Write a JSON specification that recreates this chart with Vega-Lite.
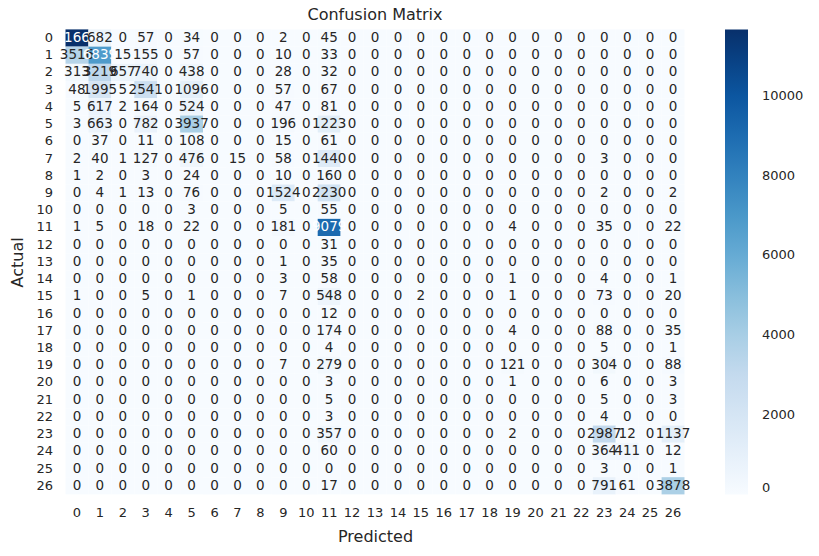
{
  "$schema": "https://vega.github.io/schema/vega-lite/v6.json",
  "width": 619,
  "height": 465,
  "autosize": "none",
  "padding": {"left": 65.5, "top": 29.4, "right": 134.5, "bottom": 61.6},
  "background": "white",
  "title": {"text": "Confusion Matrix", "fontSize": 16, "font": "DejaVu Sans", "fontWeight": "normal", "color": "#262626", "offset": 6},
  "config": {
    "view": {"stroke": null},
    "font": "DejaVu Sans",
    "axis": {"domain": false, "ticks": false, "grid": false, "labelFontSize": 13, "titleFontSize": 16, "titleFontWeight": "normal", "labelColor": "#262626", "titleColor": "#262626", "labelFont": "DejaVu Sans", "titleFont": "DejaVu Sans"}
  },
  "data": {"values": [
{"a":0,"p":0,"v":11668},{"a":0,"p":1,"v":682},{"a":0,"p":2,"v":0},{"a":0,"p":3,"v":57},{"a":0,"p":4,"v":0},{"a":0,"p":5,"v":34},{"a":0,"p":6,"v":0},{"a":0,"p":7,"v":0},{"a":0,"p":8,"v":0},{"a":0,"p":9,"v":2},{"a":0,"p":10,"v":0},{"a":0,"p":11,"v":45},{"a":0,"p":12,"v":0},{"a":0,"p":13,"v":0},{"a":0,"p":14,"v":0},{"a":0,"p":15,"v":0},{"a":0,"p":16,"v":0},{"a":0,"p":17,"v":0},{"a":0,"p":18,"v":0},{"a":0,"p":19,"v":0},{"a":0,"p":20,"v":0},{"a":0,"p":21,"v":0},{"a":0,"p":22,"v":0},{"a":0,"p":23,"v":0},{"a":0,"p":24,"v":0},{"a":0,"p":25,"v":0},{"a":0,"p":26,"v":0},
{"a":1,"p":0,"v":3516},{"a":1,"p":1,"v":6839},{"a":1,"p":2,"v":15},{"a":1,"p":3,"v":155},{"a":1,"p":4,"v":0},{"a":1,"p":5,"v":57},{"a":1,"p":6,"v":0},{"a":1,"p":7,"v":0},{"a":1,"p":8,"v":0},{"a":1,"p":9,"v":10},{"a":1,"p":10,"v":0},{"a":1,"p":11,"v":33},{"a":1,"p":12,"v":0},{"a":1,"p":13,"v":0},{"a":1,"p":14,"v":0},{"a":1,"p":15,"v":0},{"a":1,"p":16,"v":0},{"a":1,"p":17,"v":0},{"a":1,"p":18,"v":0},{"a":1,"p":19,"v":0},{"a":1,"p":20,"v":0},{"a":1,"p":21,"v":0},{"a":1,"p":22,"v":0},{"a":1,"p":23,"v":0},{"a":1,"p":24,"v":0},{"a":1,"p":25,"v":0},{"a":1,"p":26,"v":0},
{"a":2,"p":0,"v":313},{"a":2,"p":1,"v":3219},{"a":2,"p":2,"v":657},{"a":2,"p":3,"v":740},{"a":2,"p":4,"v":0},{"a":2,"p":5,"v":438},{"a":2,"p":6,"v":0},{"a":2,"p":7,"v":0},{"a":2,"p":8,"v":0},{"a":2,"p":9,"v":28},{"a":2,"p":10,"v":0},{"a":2,"p":11,"v":32},{"a":2,"p":12,"v":0},{"a":2,"p":13,"v":0},{"a":2,"p":14,"v":0},{"a":2,"p":15,"v":0},{"a":2,"p":16,"v":0},{"a":2,"p":17,"v":0},{"a":2,"p":18,"v":0},{"a":2,"p":19,"v":0},{"a":2,"p":20,"v":0},{"a":2,"p":21,"v":0},{"a":2,"p":22,"v":0},{"a":2,"p":23,"v":0},{"a":2,"p":24,"v":0},{"a":2,"p":25,"v":0},{"a":2,"p":26,"v":0},
{"a":3,"p":0,"v":48},{"a":3,"p":1,"v":1995},{"a":3,"p":2,"v":5},{"a":3,"p":3,"v":2541},{"a":3,"p":4,"v":0},{"a":3,"p":5,"v":1096},{"a":3,"p":6,"v":0},{"a":3,"p":7,"v":0},{"a":3,"p":8,"v":0},{"a":3,"p":9,"v":57},{"a":3,"p":10,"v":0},{"a":3,"p":11,"v":67},{"a":3,"p":12,"v":0},{"a":3,"p":13,"v":0},{"a":3,"p":14,"v":0},{"a":3,"p":15,"v":0},{"a":3,"p":16,"v":0},{"a":3,"p":17,"v":0},{"a":3,"p":18,"v":0},{"a":3,"p":19,"v":0},{"a":3,"p":20,"v":0},{"a":3,"p":21,"v":0},{"a":3,"p":22,"v":0},{"a":3,"p":23,"v":0},{"a":3,"p":24,"v":0},{"a":3,"p":25,"v":0},{"a":3,"p":26,"v":0},
{"a":4,"p":0,"v":5},{"a":4,"p":1,"v":617},{"a":4,"p":2,"v":2},{"a":4,"p":3,"v":164},{"a":4,"p":4,"v":0},{"a":4,"p":5,"v":524},{"a":4,"p":6,"v":0},{"a":4,"p":7,"v":0},{"a":4,"p":8,"v":0},{"a":4,"p":9,"v":47},{"a":4,"p":10,"v":0},{"a":4,"p":11,"v":81},{"a":4,"p":12,"v":0},{"a":4,"p":13,"v":0},{"a":4,"p":14,"v":0},{"a":4,"p":15,"v":0},{"a":4,"p":16,"v":0},{"a":4,"p":17,"v":0},{"a":4,"p":18,"v":0},{"a":4,"p":19,"v":0},{"a":4,"p":20,"v":0},{"a":4,"p":21,"v":0},{"a":4,"p":22,"v":0},{"a":4,"p":23,"v":0},{"a":4,"p":24,"v":0},{"a":4,"p":25,"v":0},{"a":4,"p":26,"v":0},
{"a":5,"p":0,"v":3},{"a":5,"p":1,"v":663},{"a":5,"p":2,"v":0},{"a":5,"p":3,"v":782},{"a":5,"p":4,"v":0},{"a":5,"p":5,"v":3937},{"a":5,"p":6,"v":0},{"a":5,"p":7,"v":0},{"a":5,"p":8,"v":0},{"a":5,"p":9,"v":196},{"a":5,"p":10,"v":0},{"a":5,"p":11,"v":1223},{"a":5,"p":12,"v":0},{"a":5,"p":13,"v":0},{"a":5,"p":14,"v":0},{"a":5,"p":15,"v":0},{"a":5,"p":16,"v":0},{"a":5,"p":17,"v":0},{"a":5,"p":18,"v":0},{"a":5,"p":19,"v":0},{"a":5,"p":20,"v":0},{"a":5,"p":21,"v":0},{"a":5,"p":22,"v":0},{"a":5,"p":23,"v":0},{"a":5,"p":24,"v":0},{"a":5,"p":25,"v":0},{"a":5,"p":26,"v":0},
{"a":6,"p":0,"v":0},{"a":6,"p":1,"v":37},{"a":6,"p":2,"v":0},{"a":6,"p":3,"v":11},{"a":6,"p":4,"v":0},{"a":6,"p":5,"v":108},{"a":6,"p":6,"v":0},{"a":6,"p":7,"v":0},{"a":6,"p":8,"v":0},{"a":6,"p":9,"v":15},{"a":6,"p":10,"v":0},{"a":6,"p":11,"v":61},{"a":6,"p":12,"v":0},{"a":6,"p":13,"v":0},{"a":6,"p":14,"v":0},{"a":6,"p":15,"v":0},{"a":6,"p":16,"v":0},{"a":6,"p":17,"v":0},{"a":6,"p":18,"v":0},{"a":6,"p":19,"v":0},{"a":6,"p":20,"v":0},{"a":6,"p":21,"v":0},{"a":6,"p":22,"v":0},{"a":6,"p":23,"v":0},{"a":6,"p":24,"v":0},{"a":6,"p":25,"v":0},{"a":6,"p":26,"v":0},
{"a":7,"p":0,"v":2},{"a":7,"p":1,"v":40},{"a":7,"p":2,"v":1},{"a":7,"p":3,"v":127},{"a":7,"p":4,"v":0},{"a":7,"p":5,"v":476},{"a":7,"p":6,"v":0},{"a":7,"p":7,"v":15},{"a":7,"p":8,"v":0},{"a":7,"p":9,"v":58},{"a":7,"p":10,"v":0},{"a":7,"p":11,"v":1440},{"a":7,"p":12,"v":0},{"a":7,"p":13,"v":0},{"a":7,"p":14,"v":0},{"a":7,"p":15,"v":0},{"a":7,"p":16,"v":0},{"a":7,"p":17,"v":0},{"a":7,"p":18,"v":0},{"a":7,"p":19,"v":0},{"a":7,"p":20,"v":0},{"a":7,"p":21,"v":0},{"a":7,"p":22,"v":0},{"a":7,"p":23,"v":3},{"a":7,"p":24,"v":0},{"a":7,"p":25,"v":0},{"a":7,"p":26,"v":0},
{"a":8,"p":0,"v":1},{"a":8,"p":1,"v":2},{"a":8,"p":2,"v":0},{"a":8,"p":3,"v":3},{"a":8,"p":4,"v":0},{"a":8,"p":5,"v":24},{"a":8,"p":6,"v":0},{"a":8,"p":7,"v":0},{"a":8,"p":8,"v":0},{"a":8,"p":9,"v":10},{"a":8,"p":10,"v":0},{"a":8,"p":11,"v":160},{"a":8,"p":12,"v":0},{"a":8,"p":13,"v":0},{"a":8,"p":14,"v":0},{"a":8,"p":15,"v":0},{"a":8,"p":16,"v":0},{"a":8,"p":17,"v":0},{"a":8,"p":18,"v":0},{"a":8,"p":19,"v":0},{"a":8,"p":20,"v":0},{"a":8,"p":21,"v":0},{"a":8,"p":22,"v":0},{"a":8,"p":23,"v":0},{"a":8,"p":24,"v":0},{"a":8,"p":25,"v":0},{"a":8,"p":26,"v":0},
{"a":9,"p":0,"v":0},{"a":9,"p":1,"v":4},{"a":9,"p":2,"v":1},{"a":9,"p":3,"v":13},{"a":9,"p":4,"v":0},{"a":9,"p":5,"v":76},{"a":9,"p":6,"v":0},{"a":9,"p":7,"v":0},{"a":9,"p":8,"v":0},{"a":9,"p":9,"v":1524},{"a":9,"p":10,"v":0},{"a":9,"p":11,"v":2230},{"a":9,"p":12,"v":0},{"a":9,"p":13,"v":0},{"a":9,"p":14,"v":0},{"a":9,"p":15,"v":0},{"a":9,"p":16,"v":0},{"a":9,"p":17,"v":0},{"a":9,"p":18,"v":0},{"a":9,"p":19,"v":0},{"a":9,"p":20,"v":0},{"a":9,"p":21,"v":0},{"a":9,"p":22,"v":0},{"a":9,"p":23,"v":2},{"a":9,"p":24,"v":0},{"a":9,"p":25,"v":0},{"a":9,"p":26,"v":2},
{"a":10,"p":0,"v":0},{"a":10,"p":1,"v":0},{"a":10,"p":2,"v":0},{"a":10,"p":3,"v":0},{"a":10,"p":4,"v":0},{"a":10,"p":5,"v":3},{"a":10,"p":6,"v":0},{"a":10,"p":7,"v":0},{"a":10,"p":8,"v":0},{"a":10,"p":9,"v":5},{"a":10,"p":10,"v":0},{"a":10,"p":11,"v":55},{"a":10,"p":12,"v":0},{"a":10,"p":13,"v":0},{"a":10,"p":14,"v":0},{"a":10,"p":15,"v":0},{"a":10,"p":16,"v":0},{"a":10,"p":17,"v":0},{"a":10,"p":18,"v":0},{"a":10,"p":19,"v":0},{"a":10,"p":20,"v":0},{"a":10,"p":21,"v":0},{"a":10,"p":22,"v":0},{"a":10,"p":23,"v":0},{"a":10,"p":24,"v":0},{"a":10,"p":25,"v":0},{"a":10,"p":26,"v":0},
{"a":11,"p":0,"v":1},{"a":11,"p":1,"v":5},{"a":11,"p":2,"v":0},{"a":11,"p":3,"v":18},{"a":11,"p":4,"v":0},{"a":11,"p":5,"v":22},{"a":11,"p":6,"v":0},{"a":11,"p":7,"v":0},{"a":11,"p":8,"v":0},{"a":11,"p":9,"v":181},{"a":11,"p":10,"v":0},{"a":11,"p":11,"v":9079},{"a":11,"p":12,"v":0},{"a":11,"p":13,"v":0},{"a":11,"p":14,"v":0},{"a":11,"p":15,"v":0},{"a":11,"p":16,"v":0},{"a":11,"p":17,"v":0},{"a":11,"p":18,"v":0},{"a":11,"p":19,"v":4},{"a":11,"p":20,"v":0},{"a":11,"p":21,"v":0},{"a":11,"p":22,"v":0},{"a":11,"p":23,"v":35},{"a":11,"p":24,"v":0},{"a":11,"p":25,"v":0},{"a":11,"p":26,"v":22},
{"a":12,"p":0,"v":0},{"a":12,"p":1,"v":0},{"a":12,"p":2,"v":0},{"a":12,"p":3,"v":0},{"a":12,"p":4,"v":0},{"a":12,"p":5,"v":0},{"a":12,"p":6,"v":0},{"a":12,"p":7,"v":0},{"a":12,"p":8,"v":0},{"a":12,"p":9,"v":0},{"a":12,"p":10,"v":0},{"a":12,"p":11,"v":31},{"a":12,"p":12,"v":0},{"a":12,"p":13,"v":0},{"a":12,"p":14,"v":0},{"a":12,"p":15,"v":0},{"a":12,"p":16,"v":0},{"a":12,"p":17,"v":0},{"a":12,"p":18,"v":0},{"a":12,"p":19,"v":0},{"a":12,"p":20,"v":0},{"a":12,"p":21,"v":0},{"a":12,"p":22,"v":0},{"a":12,"p":23,"v":0},{"a":12,"p":24,"v":0},{"a":12,"p":25,"v":0},{"a":12,"p":26,"v":0},
{"a":13,"p":0,"v":0},{"a":13,"p":1,"v":0},{"a":13,"p":2,"v":0},{"a":13,"p":3,"v":0},{"a":13,"p":4,"v":0},{"a":13,"p":5,"v":0},{"a":13,"p":6,"v":0},{"a":13,"p":7,"v":0},{"a":13,"p":8,"v":0},{"a":13,"p":9,"v":1},{"a":13,"p":10,"v":0},{"a":13,"p":11,"v":35},{"a":13,"p":12,"v":0},{"a":13,"p":13,"v":0},{"a":13,"p":14,"v":0},{"a":13,"p":15,"v":0},{"a":13,"p":16,"v":0},{"a":13,"p":17,"v":0},{"a":13,"p":18,"v":0},{"a":13,"p":19,"v":0},{"a":13,"p":20,"v":0},{"a":13,"p":21,"v":0},{"a":13,"p":22,"v":0},{"a":13,"p":23,"v":0},{"a":13,"p":24,"v":0},{"a":13,"p":25,"v":0},{"a":13,"p":26,"v":0},
{"a":14,"p":0,"v":0},{"a":14,"p":1,"v":0},{"a":14,"p":2,"v":0},{"a":14,"p":3,"v":0},{"a":14,"p":4,"v":0},{"a":14,"p":5,"v":0},{"a":14,"p":6,"v":0},{"a":14,"p":7,"v":0},{"a":14,"p":8,"v":0},{"a":14,"p":9,"v":3},{"a":14,"p":10,"v":0},{"a":14,"p":11,"v":58},{"a":14,"p":12,"v":0},{"a":14,"p":13,"v":0},{"a":14,"p":14,"v":0},{"a":14,"p":15,"v":0},{"a":14,"p":16,"v":0},{"a":14,"p":17,"v":0},{"a":14,"p":18,"v":0},{"a":14,"p":19,"v":1},{"a":14,"p":20,"v":0},{"a":14,"p":21,"v":0},{"a":14,"p":22,"v":0},{"a":14,"p":23,"v":4},{"a":14,"p":24,"v":0},{"a":14,"p":25,"v":0},{"a":14,"p":26,"v":1},
{"a":15,"p":0,"v":1},{"a":15,"p":1,"v":0},{"a":15,"p":2,"v":0},{"a":15,"p":3,"v":5},{"a":15,"p":4,"v":0},{"a":15,"p":5,"v":1},{"a":15,"p":6,"v":0},{"a":15,"p":7,"v":0},{"a":15,"p":8,"v":0},{"a":15,"p":9,"v":7},{"a":15,"p":10,"v":0},{"a":15,"p":11,"v":548},{"a":15,"p":12,"v":0},{"a":15,"p":13,"v":0},{"a":15,"p":14,"v":0},{"a":15,"p":15,"v":2},{"a":15,"p":16,"v":0},{"a":15,"p":17,"v":0},{"a":15,"p":18,"v":0},{"a":15,"p":19,"v":1},{"a":15,"p":20,"v":0},{"a":15,"p":21,"v":0},{"a":15,"p":22,"v":0},{"a":15,"p":23,"v":73},{"a":15,"p":24,"v":0},{"a":15,"p":25,"v":0},{"a":15,"p":26,"v":20},
{"a":16,"p":0,"v":0},{"a":16,"p":1,"v":0},{"a":16,"p":2,"v":0},{"a":16,"p":3,"v":0},{"a":16,"p":4,"v":0},{"a":16,"p":5,"v":0},{"a":16,"p":6,"v":0},{"a":16,"p":7,"v":0},{"a":16,"p":8,"v":0},{"a":16,"p":9,"v":0},{"a":16,"p":10,"v":0},{"a":16,"p":11,"v":12},{"a":16,"p":12,"v":0},{"a":16,"p":13,"v":0},{"a":16,"p":14,"v":0},{"a":16,"p":15,"v":0},{"a":16,"p":16,"v":0},{"a":16,"p":17,"v":0},{"a":16,"p":18,"v":0},{"a":16,"p":19,"v":0},{"a":16,"p":20,"v":0},{"a":16,"p":21,"v":0},{"a":16,"p":22,"v":0},{"a":16,"p":23,"v":0},{"a":16,"p":24,"v":0},{"a":16,"p":25,"v":0},{"a":16,"p":26,"v":0},
{"a":17,"p":0,"v":0},{"a":17,"p":1,"v":0},{"a":17,"p":2,"v":0},{"a":17,"p":3,"v":0},{"a":17,"p":4,"v":0},{"a":17,"p":5,"v":0},{"a":17,"p":6,"v":0},{"a":17,"p":7,"v":0},{"a":17,"p":8,"v":0},{"a":17,"p":9,"v":0},{"a":17,"p":10,"v":0},{"a":17,"p":11,"v":174},{"a":17,"p":12,"v":0},{"a":17,"p":13,"v":0},{"a":17,"p":14,"v":0},{"a":17,"p":15,"v":0},{"a":17,"p":16,"v":0},{"a":17,"p":17,"v":0},{"a":17,"p":18,"v":0},{"a":17,"p":19,"v":4},{"a":17,"p":20,"v":0},{"a":17,"p":21,"v":0},{"a":17,"p":22,"v":0},{"a":17,"p":23,"v":88},{"a":17,"p":24,"v":0},{"a":17,"p":25,"v":0},{"a":17,"p":26,"v":35},
{"a":18,"p":0,"v":0},{"a":18,"p":1,"v":0},{"a":18,"p":2,"v":0},{"a":18,"p":3,"v":0},{"a":18,"p":4,"v":0},{"a":18,"p":5,"v":0},{"a":18,"p":6,"v":0},{"a":18,"p":7,"v":0},{"a":18,"p":8,"v":0},{"a":18,"p":9,"v":0},{"a":18,"p":10,"v":0},{"a":18,"p":11,"v":4},{"a":18,"p":12,"v":0},{"a":18,"p":13,"v":0},{"a":18,"p":14,"v":0},{"a":18,"p":15,"v":0},{"a":18,"p":16,"v":0},{"a":18,"p":17,"v":0},{"a":18,"p":18,"v":0},{"a":18,"p":19,"v":0},{"a":18,"p":20,"v":0},{"a":18,"p":21,"v":0},{"a":18,"p":22,"v":0},{"a":18,"p":23,"v":5},{"a":18,"p":24,"v":0},{"a":18,"p":25,"v":0},{"a":18,"p":26,"v":1},
{"a":19,"p":0,"v":0},{"a":19,"p":1,"v":0},{"a":19,"p":2,"v":0},{"a":19,"p":3,"v":0},{"a":19,"p":4,"v":0},{"a":19,"p":5,"v":0},{"a":19,"p":6,"v":0},{"a":19,"p":7,"v":0},{"a":19,"p":8,"v":0},{"a":19,"p":9,"v":7},{"a":19,"p":10,"v":0},{"a":19,"p":11,"v":279},{"a":19,"p":12,"v":0},{"a":19,"p":13,"v":0},{"a":19,"p":14,"v":0},{"a":19,"p":15,"v":0},{"a":19,"p":16,"v":0},{"a":19,"p":17,"v":0},{"a":19,"p":18,"v":0},{"a":19,"p":19,"v":121},{"a":19,"p":20,"v":0},{"a":19,"p":21,"v":0},{"a":19,"p":22,"v":0},{"a":19,"p":23,"v":304},{"a":19,"p":24,"v":0},{"a":19,"p":25,"v":0},{"a":19,"p":26,"v":88},
{"a":20,"p":0,"v":0},{"a":20,"p":1,"v":0},{"a":20,"p":2,"v":0},{"a":20,"p":3,"v":0},{"a":20,"p":4,"v":0},{"a":20,"p":5,"v":0},{"a":20,"p":6,"v":0},{"a":20,"p":7,"v":0},{"a":20,"p":8,"v":0},{"a":20,"p":9,"v":0},{"a":20,"p":10,"v":0},{"a":20,"p":11,"v":3},{"a":20,"p":12,"v":0},{"a":20,"p":13,"v":0},{"a":20,"p":14,"v":0},{"a":20,"p":15,"v":0},{"a":20,"p":16,"v":0},{"a":20,"p":17,"v":0},{"a":20,"p":18,"v":0},{"a":20,"p":19,"v":1},{"a":20,"p":20,"v":0},{"a":20,"p":21,"v":0},{"a":20,"p":22,"v":0},{"a":20,"p":23,"v":6},{"a":20,"p":24,"v":0},{"a":20,"p":25,"v":0},{"a":20,"p":26,"v":3},
{"a":21,"p":0,"v":0},{"a":21,"p":1,"v":0},{"a":21,"p":2,"v":0},{"a":21,"p":3,"v":0},{"a":21,"p":4,"v":0},{"a":21,"p":5,"v":0},{"a":21,"p":6,"v":0},{"a":21,"p":7,"v":0},{"a":21,"p":8,"v":0},{"a":21,"p":9,"v":0},{"a":21,"p":10,"v":0},{"a":21,"p":11,"v":5},{"a":21,"p":12,"v":0},{"a":21,"p":13,"v":0},{"a":21,"p":14,"v":0},{"a":21,"p":15,"v":0},{"a":21,"p":16,"v":0},{"a":21,"p":17,"v":0},{"a":21,"p":18,"v":0},{"a":21,"p":19,"v":0},{"a":21,"p":20,"v":0},{"a":21,"p":21,"v":0},{"a":21,"p":22,"v":0},{"a":21,"p":23,"v":5},{"a":21,"p":24,"v":0},{"a":21,"p":25,"v":0},{"a":21,"p":26,"v":3},
{"a":22,"p":0,"v":0},{"a":22,"p":1,"v":0},{"a":22,"p":2,"v":0},{"a":22,"p":3,"v":0},{"a":22,"p":4,"v":0},{"a":22,"p":5,"v":0},{"a":22,"p":6,"v":0},{"a":22,"p":7,"v":0},{"a":22,"p":8,"v":0},{"a":22,"p":9,"v":0},{"a":22,"p":10,"v":0},{"a":22,"p":11,"v":3},{"a":22,"p":12,"v":0},{"a":22,"p":13,"v":0},{"a":22,"p":14,"v":0},{"a":22,"p":15,"v":0},{"a":22,"p":16,"v":0},{"a":22,"p":17,"v":0},{"a":22,"p":18,"v":0},{"a":22,"p":19,"v":0},{"a":22,"p":20,"v":0},{"a":22,"p":21,"v":0},{"a":22,"p":22,"v":0},{"a":22,"p":23,"v":4},{"a":22,"p":24,"v":0},{"a":22,"p":25,"v":0},{"a":22,"p":26,"v":0},
{"a":23,"p":0,"v":0},{"a":23,"p":1,"v":0},{"a":23,"p":2,"v":0},{"a":23,"p":3,"v":0},{"a":23,"p":4,"v":0},{"a":23,"p":5,"v":0},{"a":23,"p":6,"v":0},{"a":23,"p":7,"v":0},{"a":23,"p":8,"v":0},{"a":23,"p":9,"v":0},{"a":23,"p":10,"v":0},{"a":23,"p":11,"v":357},{"a":23,"p":12,"v":0},{"a":23,"p":13,"v":0},{"a":23,"p":14,"v":0},{"a":23,"p":15,"v":0},{"a":23,"p":16,"v":0},{"a":23,"p":17,"v":0},{"a":23,"p":18,"v":0},{"a":23,"p":19,"v":2},{"a":23,"p":20,"v":0},{"a":23,"p":21,"v":0},{"a":23,"p":22,"v":0},{"a":23,"p":23,"v":2987},{"a":23,"p":24,"v":12},{"a":23,"p":25,"v":0},{"a":23,"p":26,"v":1137},
{"a":24,"p":0,"v":0},{"a":24,"p":1,"v":0},{"a":24,"p":2,"v":0},{"a":24,"p":3,"v":0},{"a":24,"p":4,"v":0},{"a":24,"p":5,"v":0},{"a":24,"p":6,"v":0},{"a":24,"p":7,"v":0},{"a":24,"p":8,"v":0},{"a":24,"p":9,"v":0},{"a":24,"p":10,"v":0},{"a":24,"p":11,"v":60},{"a":24,"p":12,"v":0},{"a":24,"p":13,"v":0},{"a":24,"p":14,"v":0},{"a":24,"p":15,"v":0},{"a":24,"p":16,"v":0},{"a":24,"p":17,"v":0},{"a":24,"p":18,"v":0},{"a":24,"p":19,"v":0},{"a":24,"p":20,"v":0},{"a":24,"p":21,"v":0},{"a":24,"p":22,"v":0},{"a":24,"p":23,"v":364},{"a":24,"p":24,"v":411},{"a":24,"p":25,"v":0},{"a":24,"p":26,"v":12},
{"a":25,"p":0,"v":0},{"a":25,"p":1,"v":0},{"a":25,"p":2,"v":0},{"a":25,"p":3,"v":0},{"a":25,"p":4,"v":0},{"a":25,"p":5,"v":0},{"a":25,"p":6,"v":0},{"a":25,"p":7,"v":0},{"a":25,"p":8,"v":0},{"a":25,"p":9,"v":0},{"a":25,"p":10,"v":0},{"a":25,"p":11,"v":0},{"a":25,"p":12,"v":0},{"a":25,"p":13,"v":0},{"a":25,"p":14,"v":0},{"a":25,"p":15,"v":0},{"a":25,"p":16,"v":0},{"a":25,"p":17,"v":0},{"a":25,"p":18,"v":0},{"a":25,"p":19,"v":0},{"a":25,"p":20,"v":0},{"a":25,"p":21,"v":0},{"a":25,"p":22,"v":0},{"a":25,"p":23,"v":3},{"a":25,"p":24,"v":0},{"a":25,"p":25,"v":0},{"a":25,"p":26,"v":1},
{"a":26,"p":0,"v":0},{"a":26,"p":1,"v":0},{"a":26,"p":2,"v":0},{"a":26,"p":3,"v":0},{"a":26,"p":4,"v":0},{"a":26,"p":5,"v":0},{"a":26,"p":6,"v":0},{"a":26,"p":7,"v":0},{"a":26,"p":8,"v":0},{"a":26,"p":9,"v":0},{"a":26,"p":10,"v":0},{"a":26,"p":11,"v":17},{"a":26,"p":12,"v":0},{"a":26,"p":13,"v":0},{"a":26,"p":14,"v":0},{"a":26,"p":15,"v":0},{"a":26,"p":16,"v":0},{"a":26,"p":17,"v":0},{"a":26,"p":18,"v":0},{"a":26,"p":19,"v":0},{"a":26,"p":20,"v":0},{"a":26,"p":21,"v":0},{"a":26,"p":22,"v":0},{"a":26,"p":23,"v":791},{"a":26,"p":24,"v":61},{"a":26,"p":25,"v":0},{"a":26,"p":26,"v":3878}
  ]},
  "encoding": {
    "x": {"field": "p", "type": "ordinal", "title": "Predicted", "scale": {"paddingInner": 0, "paddingOuter": 0}, "axis": {"labelAngle": 0, "labelPadding": 12, "titlePadding": 9}},
    "y": {"field": "a", "type": "ordinal", "title": "Actual", "scale": {"paddingInner": 0, "paddingOuter": 0}, "axis": {"labelPadding": 13, "titlePadding": 10}}
  },
  "layer": [
    {
      "mark": {"type": "rect", "strokeWidth": 0},
      "encoding": {
        "color": {
          "field": "v", "type": "quantitative",
          "scale": {"domain": [0, 1458.5, 2917, 4375.5, 5834, 7292.5, 8751, 10209.5, 11668], "range": ["#f7fbff", "#deebf7", "#c6dbef", "#9ecae1", "#6baed6", "#4292c6", "#2171b5", "#08519c", "#08306b"], "interpolate": "rgb"},
          "legend": {"orient": "none", "legendX": 659.5, "legendY": 0, "direction": "vertical", "gradientLength": 465.2, "gradientThickness": 23, "gradientStrokeWidth": 0, "title": null, "values": [0, 2000, 4000, 6000, 8000, 10000], "labelFontSize": 13, "labelColor": "#262626", "labelOffset": 14, "labelFont": "DejaVu Sans", "labelOverlap": false, "format": "d"}
        }
      }
    },
    {
      "mark": {"type": "text", "fontSize": 13.5, "font": "DejaVu Sans", "baseline": "middle", "align": "center"},
      "encoding": {
        "text": {"field": "v", "type": "quantitative", "format": "d"},
        "color": {"condition": {"test": "datum.v > 5000", "value": "white"}, "value": "#262626"}
      }
    }
  ]
}
